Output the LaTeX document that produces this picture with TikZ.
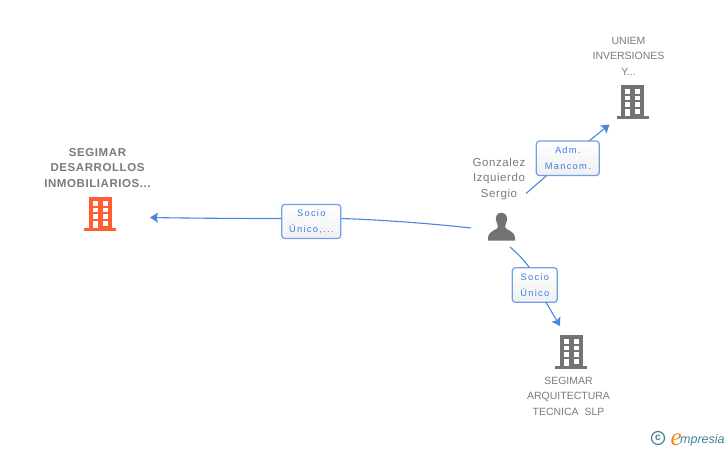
\documentclass[tikz,border=0pt]{standalone}
\usepackage{fontspec}
\setmainfont{Liberation Sans}
\newfontfamily\boldlabelfont[LetterSpace=5]{Liberation Sans}
\newfontfamily\personfont[LetterSpace=5]{Liberation Sans}
\newfontfamily\boxfont[LetterSpace=14]{Liberation Sans}
\newfontfamily\logofont{Liberation Serif}
\usetikzlibrary{arrows.meta}
\definecolor{linkblue}{HTML}{4A86DC}
\definecolor{boxedge}{HTML}{6FA0E6}
\definecolor{boxtext}{HTML}{3F7FE0}
\definecolor{icongray}{HTML}{737373}
\definecolor{labelgray}{HTML}{7A7A7A}
\definecolor{iconorange}{HTML}{FF5E33}
\definecolor{logoteal}{HTML}{3E8296}
\definecolor{logoorange}{HTML}{F08A1E}
\tikzset{
  x=1pt,y=-1pt,
  linkline/.style={draw=linkblue,line width=1.1pt},
  linkarrow/.style={linkline,-{Stealth[length=8pt,width=10pt,inset=1.5pt]}},
  linkbox/.style={draw=boxedge,line width=1.2pt,rounded corners=3pt,top color=white,bottom color=white!94!black,
    text=boxtext,font=\fontsize{9.3}{15.5}\selectfont\boxfont,align=center,inner sep=0pt,anchor=center},
  entitylabel/.style={text=labelgray,font=\fontsize{10.5}{15.2}\selectfont,align=center,inner sep=0pt},
  mainlabel/.style={text=labelgray,font=\fontsize{11.5}{15.4}\selectfont\boldlabelfont\bfseries,align=center,inner sep=0pt},
  personlabel/.style={text=labelgray,font=\fontsize{11.5}{15.2}\selectfont\personfont,align=center,inner sep=0pt},
  pics/building/.style={code={
    \fill[#1] (-11.5,0) rectangle (11.5,33);
    \fill[#1] (-16,31) rectangle (16,34);
    \foreach \r in {4,10.6,17.2}{
      \fill[white] (-7.6,\r) rectangle (-2.6,\r+4.8);
      \fill[white] (2.2,\r) rectangle (7.2,\r+4.8);
    }
    \fill[white] (-7.6,23.7) rectangle (-2.6,31);
    \fill[white] (2.2,23.7) rectangle (7.2,28.5);
  }}
}
\begin{document}
\begin{tikzpicture}
\useasboundingbox (0,0) rectangle (728,450);
% icons
\pic at (100.3,197) {building=iconorange};
\pic at (632.5,85) {building=icongray};
\pic at (571.3,335) {building=icongray};
\fill[icongray] (501.3,212.7) .. controls (496.5,212.7) and (495.5,217) .. (496,220)
  .. controls (496.4,223) and (498,225) .. (498,227)
  .. controls (498,230) and (488.5,230) .. (488,238) -- (488,240.5) -- (515,240.5) -- (515,238)
  .. controls (514.5,230) and (505,230) .. (505,227)
  .. controls (505,225) and (506.6,223) .. (507,220)
  .. controls (507.5,217) and (506,212.7) .. (501.3,212.7) -- cycle;
% labels
\node[mainlabel] (segdes) at (97.5,168) {SEGIMAR\\DESARROLLOS\\INMOBILIARIOS...};
\node[entitylabel] (uniem) at (628.5,56.3) {UNIEM\\INVERSIONES\\Y...};
\node[personlabel] (gonz) at (499,179) {Gonzalez\\Izquierdo\\Sergio};
\node[entitylabel] (segarq) at (568.5,396.3) {SEGIMAR\\ARQUITECTURA\\TECNICA\ \ SLP};
% boxes
\node[linkbox,minimum width=59pt,minimum height=34pt] (socioA) at (311.3,221.5) {Socio\\Único,...};
\node[linkbox,minimum width=63pt,minimum height=34.5pt] (adm) at (567.8,158.3) {Adm.\\Mancom.};
\node[linkbox,minimum width=45pt,minimum height=34.5pt] (socioB) at (534.8,285) {Socio\\Único};
% free ends
\coordinate (pL) at (471,228);
\coordinate (pU) at (526,193.5);
\coordinate (pD) at (510,247);
\coordinate (tipL) at (150,217.5);
\coordinate (tipU) at (609.5,124.5);
\coordinate (tipD) at (560,326);
% connectors
\draw[linkline] (pL) .. controls (430,223.5) and (385,220) .. (socioA.east |- 0,218.5);
\draw[linkarrow] (socioA.west |- 0,218.5) .. controls (240,218.5) and (200,218.3) .. (tipL);
\draw[linkline] (pU) -- (546.5,175.7);
\draw[linkarrow] (589,141) -- (tipU);
\draw[linkline] (pD) .. controls (517,253) and (524,260) .. (529.5,267.7);
\draw[linkarrow] (546,302.3) -- (tipD);
% logo
\node[draw=logoteal,line width=1.2pt,circle,minimum size=13pt,inner sep=0pt,text=logoteal,font=\fontsize{10}{10}\selectfont\bfseries] (copy) at (658,438) {c};
\node[inner sep=0pt,anchor=base west,text=logoorange,font=\fontsize{25}{25}\selectfont\logofont\itshape] (logoe) at (670.5,445) {e};
\node[inner sep=0pt,anchor=base west,text=logoteal,font=\fontsize{12.5}{12}\selectfont\itshape] (logot) at (680,443) {mpresia};
\end{tikzpicture}
\end{document}
